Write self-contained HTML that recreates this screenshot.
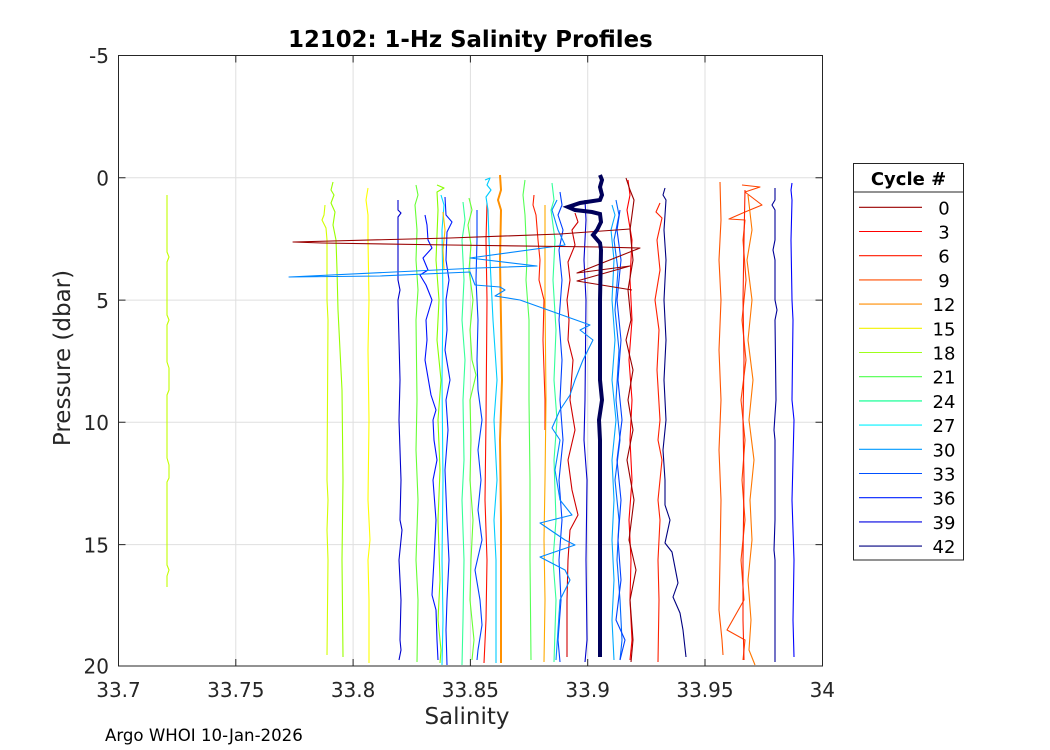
<!DOCTYPE html>
<html><head><meta charset="utf-8"><style>
html,body{margin:0;padding:0;background:#fff;}
svg{display:block;font-family:"DejaVu Sans","Liberation Sans",sans-serif;}
</style></head><body>
<svg width="1050" height="750" viewBox="0 0 1050 750" xmlns="http://www.w3.org/2000/svg">
<rect width="1050" height="750" fill="#fff"/>
<rect x="118.5" y="55.5" width="704" height="610.5" fill="#fff"/>
<!-- grid -->
<g stroke="#dfdfdf" stroke-width="1">
<line x1="235.8" y1="55.5" x2="235.8" y2="666"/>
<line x1="353.1" y1="55.5" x2="353.1" y2="666"/>
<line x1="470.4" y1="55.5" x2="470.4" y2="666"/>
<line x1="587.7" y1="55.5" x2="587.7" y2="666"/>
<line x1="705" y1="55.5" x2="705" y2="666"/>
<line x1="118.5" y1="177.8" x2="822.5" y2="177.8"/>
<line x1="118.5" y1="300.1" x2="822.5" y2="300.1"/>
<line x1="118.5" y1="422.3" x2="822.5" y2="422.3"/>
<line x1="118.5" y1="544.6" x2="822.5" y2="544.6"/>
</g>
<!-- data -->
<g fill="none" stroke-width="1.1" stroke-linejoin="round">
<polyline stroke="#c4ff00" points="167,195 167,252 169,257 167,262 167,315 169,320 167,325 167,362 169,368 169,390 167,395 167,458 169,465 169,478 167,482 167,565 169,570 167,576 167,587"/>
<polyline stroke="#d4ff00" points="325,205 324,215 322,220 326,228 327,240 327,300 328,320 327,480 328,500 327,530 328,560 327,655"/>
<polyline stroke="#99ff00" points="333,182 331,190 334,195 331,203 335,212 333,225 336,240 337,270 338,310 339,330 342,390 343,480 342,560 343,657"/>
<polyline stroke="#ffff00" points="368,188 366,200 368,215 368,240 369,300 368,350 369,420 368,500 370,540 368,560 369,600 369,663"/>
<polyline stroke="#0000cc" points="398,200 398,210 401,213 398,217 398,280 400,290 398,300 400,380 399,420 401,480 400,520 402,530 399,560 401,600 400,640 401,650 399,660"/>
<polyline stroke="#66ff33" points="416,185 418,195 415,205 417,230 416,260 418,290 416,320 417,400 416,450 418,500 416,560 418,600 417,662"/>
<polyline stroke="#0010ff" points="425,215 427,225 428,240 432,248 423,258 428,270 420,275 426,285 432,300 426,320 427,340 425,360 431,395 436,410 433,420 434,440 437,460 433,480 436,520 434,560 432,595 436,610 437,640 438,660"/>
<polyline stroke="#88ff00" points="437,185 444,188 437,192 438,210 436,260 439,300 437,340 441,380 438,420 440,470 438,520 440,580 438,620 441,650 440,663"/>
<polyline stroke="#00ddff" points="441,195 444,205 442,230 443,300 442,380 443,480 442,560 443,620 442,665"/>
<polyline stroke="#ffc000" points="443,212 445,230 443,250 444,270"/>
<polyline stroke="#0020ff" points="445,197 446,215 452,222 447,232 446,260 449,280 446,300 447,330 445,350 450,380 446,400 448,430 445,470 447,520 449,560 447,600 446,630 447,665"/>
<polyline stroke="#33ff99" points="463,202 465,220 462,240 464,280 462,320 465,360 463,400 464,460 462,500 464,560 463,620 462,665"/>
<polyline stroke="#66ff33" points="469,198 472,210 468,225 471,245 469,270 473,300 470,330 472,360 476,375 470,400 471,440 470,480 473,520 471,560 470,600 474,640 472,660"/>
<polyline stroke="#0040ff" points="477,210 477,240 476,280 478,320 477,360 478,390 482,420 478,450 481,480 478,510 482,540 475,570 480,600 482,625 478,650 477,660"/>
<polyline stroke="#ff1000" points="487,203 486,240 487,300 486,420 485,500 487,560 486,620 484,663"/>
<polyline stroke="#00ccff" points="485,180 490,178 487,185 491,190 486,197 488,210 489,240 491,280 493,320 497,380 494,420 497,480 494,520 496,560 496,620 496,663"/>
<polyline stroke="#ff9000" stroke-width="2" points="500,175 501,190 498,200 501,210 500,260 501,320 502,380 500,440 501,520 501,663"/>
<polyline stroke="#55ff55" points="525,180 523,195 525,215 527,260 526,280 529,320 529,400 530,480 530,560 531,660"/>
<polyline stroke="#ff2000" points="534,195 533,205 536,215 538,240 540,260 539,280 544,300 543,340 545,400 545,430"/>
<polyline stroke="#ffaa00" points="545,205 545,300 546,400 545,480 544,540 545,600 544,662"/>
<polyline stroke="#33ff99" points="552,183 554,200 551,210 555,240 553,280 556,330 554,380 557,420 554,460 556,520 553,560 556,600 554,662"/>
<polyline stroke="#0040ff" points="560,192 562,205 558,215 563,230 559,250 562,280 559,320 562,360 560,400 563,440 559,480 562,520 559,560 561,600 558,640 560,662"/>
<polyline stroke="#d00000" points="575,213 578,222 572,230 575,245 568,262 570,280 567,300 569,320 568,340 573,360 570,400 575,430 568,460 572,490 578,515 570,530 568,560 567,600 567,657"/>
<polyline stroke="#0000cc" points="585,200 586,220 584,260 586,300 585,400 584,440 587,480 586,560 587,640 585,662"/>
<polyline stroke="#0088ff" points="557,200 552,210 558,230 565,245 470,258 537,266 478,268 289,277 380,276 470,272 475,285 500,287 505,290 495,296 520,300 590,325 580,330 593,340 583,360 575,380 570,395 560,410 552,428 560,440 555,470 560,500 572,515 540,523 565,540 575,545 540,557 565,570 570,580 560,600 558,630 556,660"/>
<polyline stroke="#00aaff" points="612,205 615,215 611,230 614,260 612,300 615,340 612,380 616,420 612,460 614,500 612,540 614,580 612,620 614,660"/>
<polyline stroke="#0066ff" points="616,200 619,215 614,240 618,270 615,310 619,350 616,400 620,440 615,480 619,520 617,560 620,600 622,640 620,660"/>
<polyline stroke="#0040ff" points="620,210 617,230 621,260 617,300 621,340 618,380 622,420 617,460 621,500 618,540 621,580 616,620 625,640 620,660"/>
<polyline stroke="#ff0000" points="628,180 630,195 627,210 632,240 630,280 632,320 629,360 632,400 630,440 632,480 629,520 631,560 630,600 632,640 630,660"/>
<polyline stroke="#990000" points="626,178 630,190 634,200 630,230 633,260 628,290 631,320 626,340 633,370 628,400 633,430 627,460 634,500 629,540 636,570 630,600 633,640 631,662"/>
<polyline stroke="#990000" points="630,229 560,234 450,238 293,242 322,243 450,245 600,247 640,248 577,273 630,266 577,281 632,290"/>
<polyline stroke="#ff2000" points="660,203 656,212 662,218 657,240 660,270 655,300 659,330 657,370 660,420 658,440 662,460 658,500 660,520 658,560 659,600 658,662"/>
<polyline stroke="#000080" points="665,188 663,195 666,200 664,230 666,260 664,300 666,340 664,380 666,420 663,450 665,480 665,505 670,520 665,543 672,552 678,583 673,597 680,613 683,630 686,657"/>
<polyline stroke="#ff5500" points="720,182 721,220 719,260 721,300 719,350 721,400 719,450 721,500 720,560 719,610 722,640 723,655"/>
<polyline stroke="#ff4400" points="742,185 760,187 745,192 762,205 745,212 729,219 745,220 743,240 746,280 742,320 746,360 741,400 745,440 742,480 745,520 741,560 744,600 727,630 745,640 743,660"/>
<polyline stroke="#ff2000" points="745,190 744,240 743,300 744,360 743,420 744,480 743,560 743,620 744,660"/>
<polyline stroke="#ff7700" points="748,195 752,230 747,260 752,300 748,340 753,380 749,420 754,460 750,500 752,540 748,580 751,620 749,650 755,665"/>
<polyline stroke="#000099" points="775,188 775,200 772,205 775,210 775,240 773,250 775,260 775,300 777,310 775,320 776,400 774,430 775,440 775,520 774,550 775,560 775,662"/>
<polyline stroke="#0000ff" points="792,183 791,190 792,200 791,240 792,300 793,320 792,400 794,420 792,500 794,560 793,620 794,657"/>
<polyline stroke="#00005a" stroke-width="4" stroke-linejoin="miter" points="600,175 602,180 600,187 602,195 600,200 580,203 568,207 575,210 592,212 600,214 601,222 597,230 593,235 600,243 601,250 600,300 600,380 602,400 599,420 600,440 600,657"/>
</g>
<!-- frame & ticks -->
<g stroke="#262626" stroke-width="1" fill="none">
<rect x="118.5" y="55.5" width="704" height="610.5"/>
<path d="M235.8 666v-7M353.1 666v-7M470.4 666v-7M587.7 666v-7M705 666v-7M235.8 55.5v7M353.1 55.5v7M470.4 55.5v7M587.7 55.5v7M705 55.5v7"/>
<path d="M118.5 177.8h7M118.5 300.1h7M118.5 422.3h7M118.5 544.6h7M822.5 177.8h-7M822.5 300.1h-7M822.5 422.3h-7M822.5 544.6h-7"/>
</g>
<g fill="#262626" font-size="20" text-anchor="middle">
<text x="118.5" y="697">33.7</text>
<text x="235.8" y="697">33.75</text>
<text x="353.1" y="697">33.8</text>
<text x="470.4" y="697">33.85</text>
<text x="587.7" y="697">33.9</text>
<text x="705" y="697">33.95</text>
<text x="822.3" y="697">34</text>
</g>
<g fill="#262626" font-size="20" text-anchor="end">
<text x="109" y="63">-5</text>
<text x="109" y="185.5">0</text>
<text x="109" y="307.8">5</text>
<text x="109" y="430">10</text>
<text x="109" y="552.3">15</text>
<text x="109" y="673.7">20</text>
</g>
<text x="470.4" y="47" font-size="22.8" font-weight="bold" text-anchor="middle" fill="#000">12102: 1-Hz Salinity Profiles</text>
<text x="467" y="724" font-size="23" text-anchor="middle" fill="#262626">Salinity</text>
<text transform="translate(70,358) rotate(-90)" font-size="23" text-anchor="middle" fill="#262626">Pressure (dbar)</text>
<text x="105" y="741" font-size="16.6" fill="#000">Argo WHOI 10-Jan-2026</text>
<!-- legend -->
<rect x="853.5" y="163.5" width="110" height="396.5" fill="#fff" stroke="#262626" stroke-width="1"/>
<line x1="853.5" y1="192" x2="963.5" y2="192" stroke="#262626" stroke-width="1"/>
<text x="908.5" y="185" font-size="18" font-weight="bold" text-anchor="middle" fill="#000">Cycle #</text>
<g stroke-width="1.1">
<line x1="859" y1="207.3" x2="922" y2="207.3" stroke="#990000"/>
<line x1="859" y1="231.5" x2="922" y2="231.5" stroke="#ff0000"/>
<line x1="859" y1="255.7" x2="922" y2="255.7" stroke="#ff1a00"/>
<line x1="859" y1="279.9" x2="922" y2="279.9" stroke="#ff4d00"/>
<line x1="859" y1="304.1" x2="922" y2="304.1" stroke="#ff8c00"/>
<line x1="859" y1="328.3" x2="922" y2="328.3" stroke="#f2f200"/>
<line x1="859" y1="352.5" x2="922" y2="352.5" stroke="#9eff1a"/>
<line x1="859" y1="376.7" x2="922" y2="376.7" stroke="#4dff4d"/>
<line x1="859" y1="400.9" x2="922" y2="400.9" stroke="#00ff8c"/>
<line x1="859" y1="425.1" x2="922" y2="425.1" stroke="#00f2ff"/>
<line x1="859" y1="449.3" x2="922" y2="449.3" stroke="#0099ff"/>
<line x1="859" y1="473.5" x2="922" y2="473.5" stroke="#0050ff"/>
<line x1="859" y1="497.7" x2="922" y2="497.7" stroke="#0020ff"/>
<line x1="859" y1="521.9" x2="922" y2="521.9" stroke="#0000e0"/>
<line x1="859" y1="546.1" x2="922" y2="546.1" stroke="#000080"/>
</g>
<g font-size="18" text-anchor="middle" fill="#000">
<text x="944" y="214.3">0</text>
<text x="944" y="238.5">3</text>
<text x="944" y="262.7">6</text>
<text x="944" y="286.9">9</text>
<text x="944" y="311.1">12</text>
<text x="944" y="335.3">15</text>
<text x="944" y="359.5">18</text>
<text x="944" y="383.7">21</text>
<text x="944" y="407.9">24</text>
<text x="944" y="432.1">27</text>
<text x="944" y="456.3">30</text>
<text x="944" y="480.5">33</text>
<text x="944" y="504.7">36</text>
<text x="944" y="528.9">39</text>
<text x="944" y="553.1">42</text>
</g>
</svg>
</body></html>
